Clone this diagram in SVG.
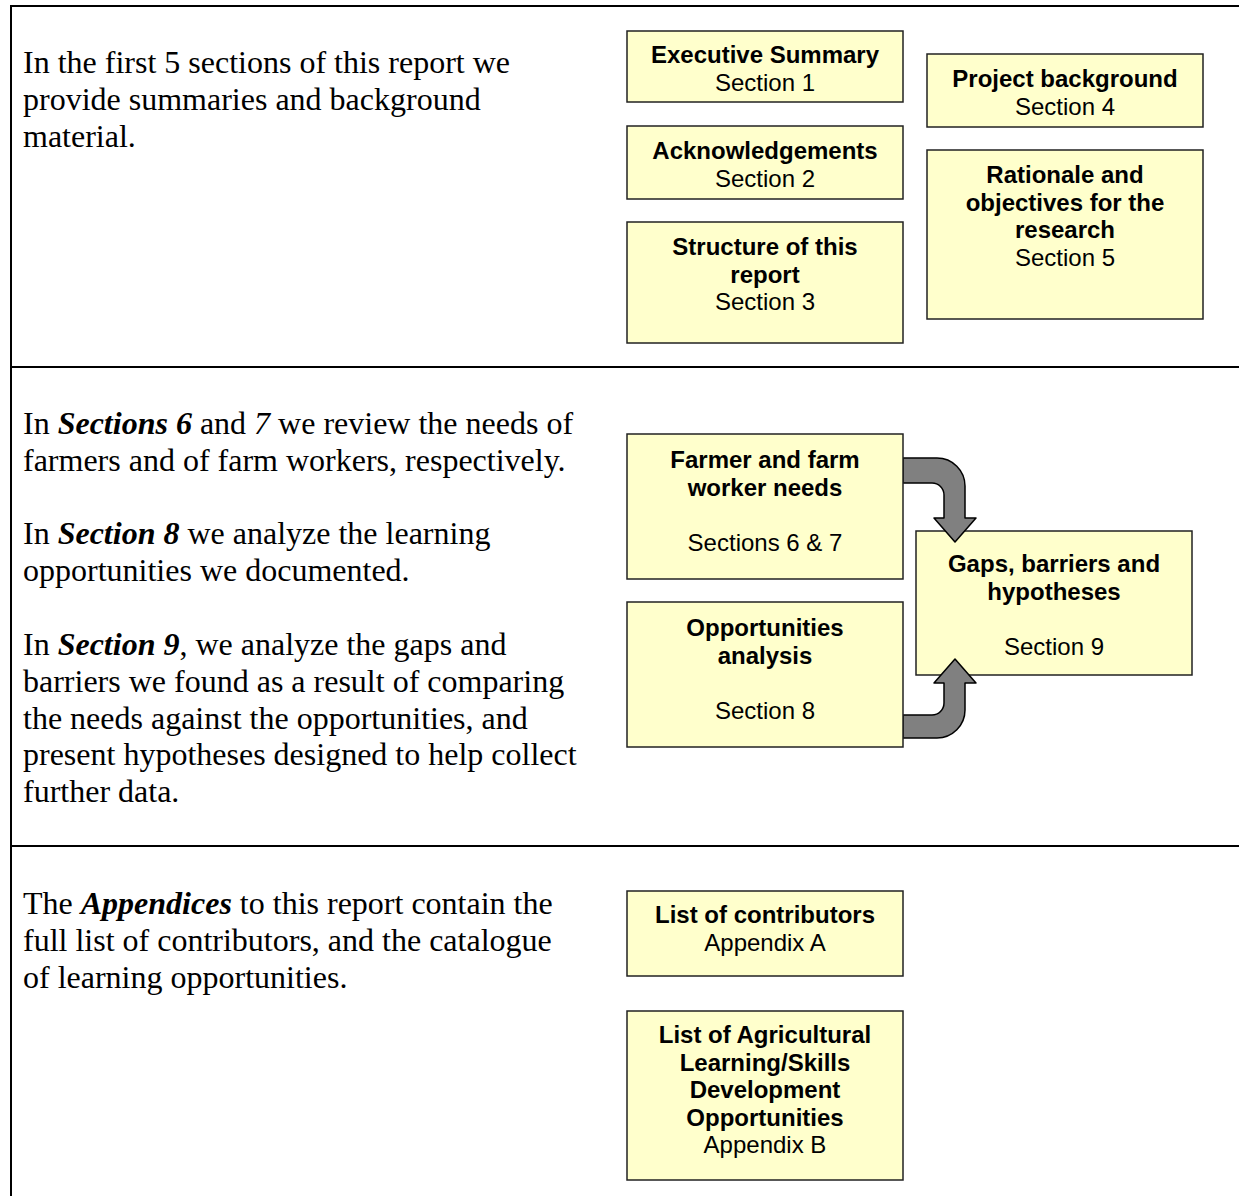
<svg xmlns="http://www.w3.org/2000/svg" width="1239" height="1196" viewBox="0 0 1239 1196">
<style>
.frame{stroke:#000;stroke-width:2;fill:none}
.box{fill:#ffffcc;stroke:#222;stroke-width:1.5}
.arrow{fill:#808080;stroke:#000;stroke-width:1.5;stroke-linejoin:round}
.body{font-family:"Liberation Serif","Times New Roman",serif;font-size:32px;fill:#000}
.bi{font-weight:bold;font-style:italic}
.it{font-style:italic}
.lbl{font-family:"Liberation Sans",Arial,sans-serif;font-size:24px;fill:#000;text-anchor:middle}
.b{font-weight:bold}
</style>
<rect width="1239" height="1196" fill="#fff"/>
<g id="frame">
<line class="frame" x1="10" y1="6" x2="1239" y2="6"/>
<line class="frame" x1="11" y1="5" x2="11" y2="1196"/>
<line class="frame" x1="10" y1="367" x2="1239" y2="367"/>
<line class="frame" x1="10" y1="846" x2="1239" y2="846"/>
</g>
<g id="text-intro" class="body">
<text x="23" y="73">In the first 5 sections of this report we</text>
<text x="23" y="110">provide summaries and background</text>
<text x="23" y="147">material.</text>
</g>
<g id="text-analysis" class="body">
<text x="23" y="434">In <tspan class="bi">Sections 6</tspan> and <tspan class="it">7</tspan> we review the needs of</text>
<text x="23" y="471">farmers and of farm workers, respectively.</text>
<text x="23" y="544">In <tspan class="bi">Section 8</tspan> we analyze the learning</text>
<text x="23" y="581">opportunities we documented.</text>
<text x="23" y="655">In <tspan class="bi">Section 9</tspan>, we analyze the gaps and</text>
<text x="23" y="692">barriers we found as a result of comparing</text>
<text x="23" y="729">the needs against the opportunities, and</text>
<text x="23" y="765">present hypotheses designed to help collect</text>
<text x="23" y="802">further data.</text>
</g>
<g id="text-appendices" class="body">
<text x="23" y="914">The <tspan class="bi">Appendices</tspan> to this report contain the</text>
<text x="23" y="951">full list of contributors, and the catalogue</text>
<text x="23" y="988">of learning opportunities.</text>
</g>
<g id="n-exec">
<rect class="box" x="627" y="31" width="276" height="71"/>
<text class="lbl" x="765" y="63"><tspan class="b">Executive Summary</tspan><tspan x="765" dy="27.6">Section 1</tspan></text>
</g>
<g id="n-ack">
<rect class="box" x="627" y="126" width="276" height="73"/>
<text class="lbl" x="765" y="159"><tspan class="b">Acknowledgements</tspan><tspan x="765" dy="27.6">Section 2</tspan></text>
</g>
<g id="n-structure">
<rect class="box" x="627" y="222" width="276" height="121"/>
<text class="lbl" x="765" y="255"><tspan class="b">Structure of this</tspan><tspan class="b" x="765" dy="27.6">report</tspan><tspan x="765" dy="27.6">Section 3</tspan></text>
</g>
<g id="n-project">
<rect class="box" x="927" y="54" width="276" height="73"/>
<text class="lbl" x="1065" y="87"><tspan class="b">Project background</tspan><tspan x="1065" dy="27.6">Section 4</tspan></text>
</g>
<g id="n-rationale">
<rect class="box" x="927" y="150" width="276" height="169"/>
<text class="lbl" x="1065" y="183"><tspan class="b">Rationale and</tspan><tspan class="b" x="1065" dy="27.6">objectives for the</tspan><tspan class="b" x="1065" dy="27.6">research</tspan><tspan x="1065" dy="27.6">Section 5</tspan></text>
</g>
<g id="n-gaps">
<rect class="box" x="916" y="531" width="276" height="144"/>
<text class="lbl" x="1054" y="572"><tspan class="b">Gaps, barriers and</tspan><tspan class="b" x="1054" dy="27.6">hypotheses</tspan><tspan x="1054" dy="55.2">Section 9</tspan></text>
</g>
<g id="connectors">
<path class="arrow" d="M903 458 L937 458 A28 28 0 0 1 965 486 L965 518 L976 518 L955 542 L934 518 L944 518 L944 495 A12 12 0 0 0 932 483 L903 483 Z"/>
<path class="arrow" d="M903 738 L937 738 A28 28 0 0 0 965 710 L965 683 L976 683 L955 659 L934 683 L944 683 L944 703 A12 12 0 0 1 932 715 L903 715 Z"/>
</g>
<g id="n-needs">
<rect class="box" x="627" y="434" width="276" height="145"/>
<text class="lbl" x="765" y="468"><tspan class="b">Farmer and farm</tspan><tspan class="b" x="765" dy="27.6">worker needs</tspan><tspan x="765" dy="55.2">Sections 6 &amp; 7</tspan></text>
</g>
<g id="n-opps">
<rect class="box" x="627" y="602" width="276" height="145"/>
<text class="lbl" x="765" y="636"><tspan class="b">Opportunities</tspan><tspan class="b" x="765" dy="27.6">analysis</tspan><tspan x="765" dy="55.2">Section 8</tspan></text>
</g>
<g id="n-contrib">
<rect class="box" x="627" y="891" width="276" height="85"/>
<text class="lbl" x="765" y="923"><tspan class="b">List of contributors</tspan><tspan x="765" dy="27.6">Appendix A</tspan></text>
</g>
<g id="n-catalogue">
<rect class="box" x="627" y="1011" width="276" height="169"/>
<text class="lbl" x="765" y="1043"><tspan class="b">List of Agricultural</tspan><tspan class="b" x="765" dy="27.6">Learning/Skills</tspan><tspan class="b" x="765" dy="27.6">Development</tspan><tspan class="b" x="765" dy="27.6">Opportunities</tspan><tspan x="765" dy="27.6">Appendix B</tspan></text>
</g>
</svg>
